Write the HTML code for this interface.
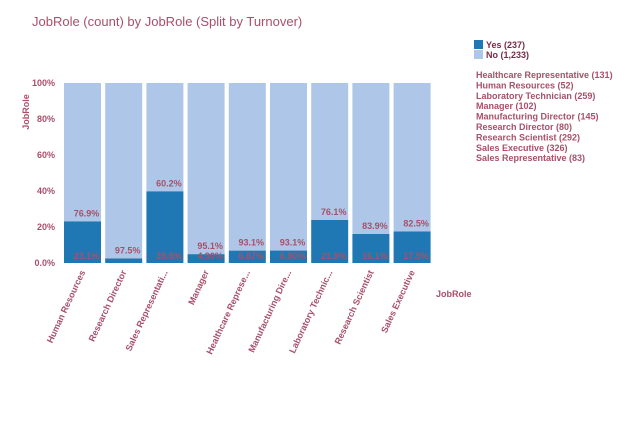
<!DOCTYPE html>
<html><head><meta charset="utf-8"><style>
body{margin:0;background:#fff;width:636px;height:428px;overflow:hidden;font-family:"Liberation Sans",Arial,sans-serif}
</style></head><body>
<svg width="636" height="428" xmlns="http://www.w3.org/2000/svg" font-family="Liberation Sans, Arial, sans-serif">
<text x="32" y="26" font-size="13" fill="#a8506a">JobRole (count) by JobRole (Split by Turnover)</text>
<text transform="translate(29,112) rotate(-90)" text-anchor="middle" font-size="9" font-weight="bold" fill="#a8506a">JobRole</text>
<text x="436" y="297" font-size="9" font-weight="bold" fill="#a8506a">JobRole</text>
<g id="yticks"></g>
<g id="bars"></g>
<g id="legend">
<rect x="474" y="40" width="9" height="9" fill="#1f77b4"/>
<text x="486" y="48" font-size="9" font-weight="bold" fill="#7a2a45">Yes (237)</text>
<rect x="474" y="50" width="9" height="9" fill="#aec7e8"/>
<text x="486" y="58" font-size="9" font-weight="bold" fill="#7a2a45">No (1,233)</text>
</g>
<g id="catlist"></g>
</svg>
<script>
const categories=["Human Resources","Research Director","Sales Representati...","Manager","Healthcare Represe...","Manufacturing Dire...","Laboratory Technic...","Research Scientist","Sales Executive"];
const yesPct=[23.1,2.5,39.8,4.9,6.87,6.9,23.9,16.1,17.5];
const yesLabels=["23.1%","","39.8%","4.90%","6.87%","6.90%","23.9%","16.1%","17.5%"];
const noLabels=["76.9%","97.5%","60.2%","95.1%","93.1%","93.1%","76.1%","83.9%","82.5%"];
const yTicks=[0,20,40,60,80,100];
const yTickLabels=["0.0%","20%","40%","60%","80%","100%"];
const catList=["Healthcare Representative (131)","Human Resources (52)","Laboratory Technician (259)","Manager (102)","Manufacturing Director (145)","Research Director (80)","Research Scientist (292)","Sales Executive (326)","Sales Representative (83)"];
const NS="http://www.w3.org/2000/svg";
const y0=263,y1=83,x0=64,step=41.2,bw=37;
const ys=v=>y0-(v/100)*(y0-y1);
const xs=i=>x0+i*step;
function mk(t,a,p,txt){const e=document.createElementNS(NS,t);for(const k in a)e.setAttribute(k,a[k]);if(txt!=null)e.textContent=txt;p.appendChild(e);return e;}
const yt=document.getElementById('yticks');
yTicks.forEach((v,i)=>{const t=mk('text',{x:55,y:ys(v)+3,'text-anchor':'end','font-size':9,'font-weight':'bold',fill:'#a8506a'},yt,yTickLabels[i]);

});
const bg=document.getElementById('bars');
categories.forEach((c,i)=>{
 const x=xs(i);
 const no=mk('rect',{x:x,y:ys(100),width:bw,height:ys(yesPct[i])-ys(100),fill:'#aec7e8'},bg);
 
 
 const ye=mk('rect',{x:x,y:ys(yesPct[i]),width:bw,height:y0-ys(yesPct[i]),fill:'#1f77b4'},bg);
 
 
 const nl=mk('text',{x:x+bw/2+4,y:ys(yesPct[i])-5,'text-anchor':'middle','font-size':9,'font-weight':'bold',fill:'#a8506a'},bg,noLabels[i]);
 
 
 if(yesLabels[i]){const yl=mk('text',{x:x+bw/2+4,y:y0-4,'text-anchor':'middle','font-size':9,'font-weight':'bold',fill:'#a8506a'},bg,yesLabels[i]);
 
 }
 const cl=mk('text',{transform:`translate(${x+bw/2+3},272) rotate(-65)`,'text-anchor':'end','font-size':9,'font-weight':'bold',fill:'#a8506a'},bg,c);
 
 
});
const cg=document.getElementById('catlist');
catList.forEach((c,i)=>{const t=mk('text',{x:476,y:78+i*10.4,'font-size':9,'font-weight':'bold',fill:'#a8506a'},cg,c);

});
</script>
</body></html>
